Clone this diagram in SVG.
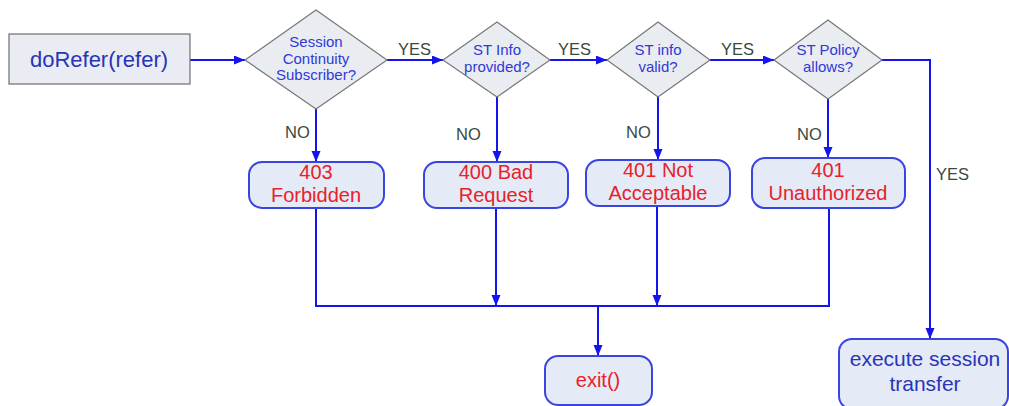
<svg xmlns="http://www.w3.org/2000/svg" width="1009" height="406" viewBox="0 0 1009 406">
  <style>
    .start { fill: #e9ecf2; stroke: #6e6e6e; stroke-width: 1.2; }
    .dec { fill: #e9ecf1; stroke: #777; stroke-width: 1.2; }
    .res { fill: #e4eaf6; stroke: #3a44e0; stroke-width: 2; }
    .conn { fill: none; stroke: #1414ee; stroke-width: 2; }
    .qt { font-family: "Liberation Sans", Arial, sans-serif; font-size: 15px; fill: #2f3ad8; text-anchor: middle; }
    .rt { font-family: "Liberation Sans", Arial, sans-serif; font-size: 20px; fill: #e8222a; text-anchor: middle; }
    .bt { font-family: "Liberation Sans", Arial, sans-serif; fill: #2a34b8; text-anchor: middle; }
    .lbl { font-family: "Liberation Sans", Arial, sans-serif; font-size: 16.5px; fill: #3b4842; }
  </style>
  <defs>
    <marker id="arrow" markerUnits="userSpaceOnUse" markerWidth="12" markerHeight="10" refX="11" refY="4.5" orient="auto">
      <path d="M0,0 L11,4.5 L0,9 z" fill="#1414ee"/>
    </marker>
  </defs>
  <rect width="1009" height="406" fill="#ffffff"/>

  <g id="connectors">
    <line class="conn" x1="190" y1="60" x2="245" y2="60" marker-end="url(#arrow)"/>
    <line class="conn" x1="387" y1="60" x2="443" y2="60" marker-end="url(#arrow)"/>
    <line class="conn" x1="550" y1="60" x2="607" y2="60" marker-end="url(#arrow)"/>
    <line class="conn" x1="710" y1="60" x2="774" y2="60" marker-end="url(#arrow)"/>
    <path class="conn" d="M882,60 H930 V339" marker-end="url(#arrow)"/>
    <line class="conn" x1="316" y1="109" x2="316" y2="162" marker-end="url(#arrow)"/>
    <line class="conn" x1="497" y1="97" x2="497" y2="162" marker-end="url(#arrow)"/>
    <line class="conn" x1="658" y1="97" x2="658" y2="160" marker-end="url(#arrow)"/>
    <line class="conn" x1="828" y1="99" x2="828" y2="158" marker-end="url(#arrow)"/>
    <path class="conn" d="M316,208 V306 H829 V208"/>
    <line class="conn" x1="496" y1="208" x2="496" y2="306" marker-end="url(#arrow)"/>
    <line class="conn" x1="657" y1="206" x2="657" y2="306" marker-end="url(#arrow)"/>
    <line class="conn" x1="598" y1="306" x2="598" y2="356" marker-end="url(#arrow)"/>
    <text class="lbl" x="398" y="55">YES</text>
    <text class="lbl" x="558" y="55">YES</text>
    <text class="lbl" x="721" y="55">YES</text>
    <text class="lbl" x="936" y="180">YES</text>
    <text class="lbl" x="285" y="138">NO</text>
    <text class="lbl" x="456" y="140">NO</text>
    <text class="lbl" x="626" y="138">NO</text>
    <text class="lbl" x="797" y="140">NO</text>
  </g>

  <g id="doRefer">
    <rect class="start" x="9" y="34" width="181" height="50"/>
    <text class="bt" x="99" y="67" font-size="22">doRefer(refer)</text>
  </g>

  <g id="q-subscriber">
    <polygon class="dec" points="316,10 387,60 316,109 245,60"/>
    <text class="qt" x="316" y="47">Session</text>
    <text class="qt" x="316" y="64">Continuity</text>
    <text class="qt" x="316" y="80">Subscriber?</text>
  </g>

  <g id="q-info-provided">
    <polygon class="dec" points="497,22 550,60 497,97 443,60"/>
    <text class="qt" x="497" y="55">ST Info</text>
    <text class="qt" x="497" y="72">provided?</text>
  </g>

  <g id="q-info-valid">
    <polygon class="dec" points="658,22 710,60 658,97 607,60"/>
    <text class="qt" x="658" y="55">ST info</text>
    <text class="qt" x="658" y="72">valid?</text>
  </g>

  <g id="q-policy">
    <polygon class="dec" points="828,20 882,60 828,99 774,60"/>
    <text class="qt" x="828" y="55">ST Policy</text>
    <text class="qt" x="828" y="72">allows?</text>
  </g>

  <g id="r403">
    <rect class="res" x="249" y="162" width="135" height="46" rx="13"/>
    <text class="rt" x="316" y="179">403</text>
    <text class="rt" x="316" y="202">Forbidden</text>
  </g>

  <g id="r400">
    <rect class="res" x="424" y="162" width="144" height="46" rx="13"/>
    <text class="rt" x="496" y="179">400 Bad</text>
    <text class="rt" x="496" y="202">Request</text>
  </g>

  <g id="r401-na">
    <rect class="res" x="586" y="160" width="144" height="46" rx="13"/>
    <text class="rt" x="658" y="177">401 Not</text>
    <text class="rt" x="658" y="200">Acceptable</text>
  </g>

  <g id="r401-ua">
    <rect class="res" x="752" y="158" width="153" height="50" rx="13"/>
    <text class="rt" x="828" y="177">401</text>
    <text class="rt" x="828" y="200">Unauthorized</text>
  </g>

  <g id="exit">
    <rect class="res" x="545" y="356" width="107" height="49" rx="13"/>
    <text class="rt" x="598" y="387" font-size="22.5">exit()</text>
  </g>

  <g id="execute">
    <rect class="res" x="839" y="339" width="169" height="70" rx="13"/>
    <text class="bt" x="925" y="366" font-size="21">execute session</text>
    <text class="bt" x="925" y="391" font-size="21">transfer</text>
  </g>
</svg>
